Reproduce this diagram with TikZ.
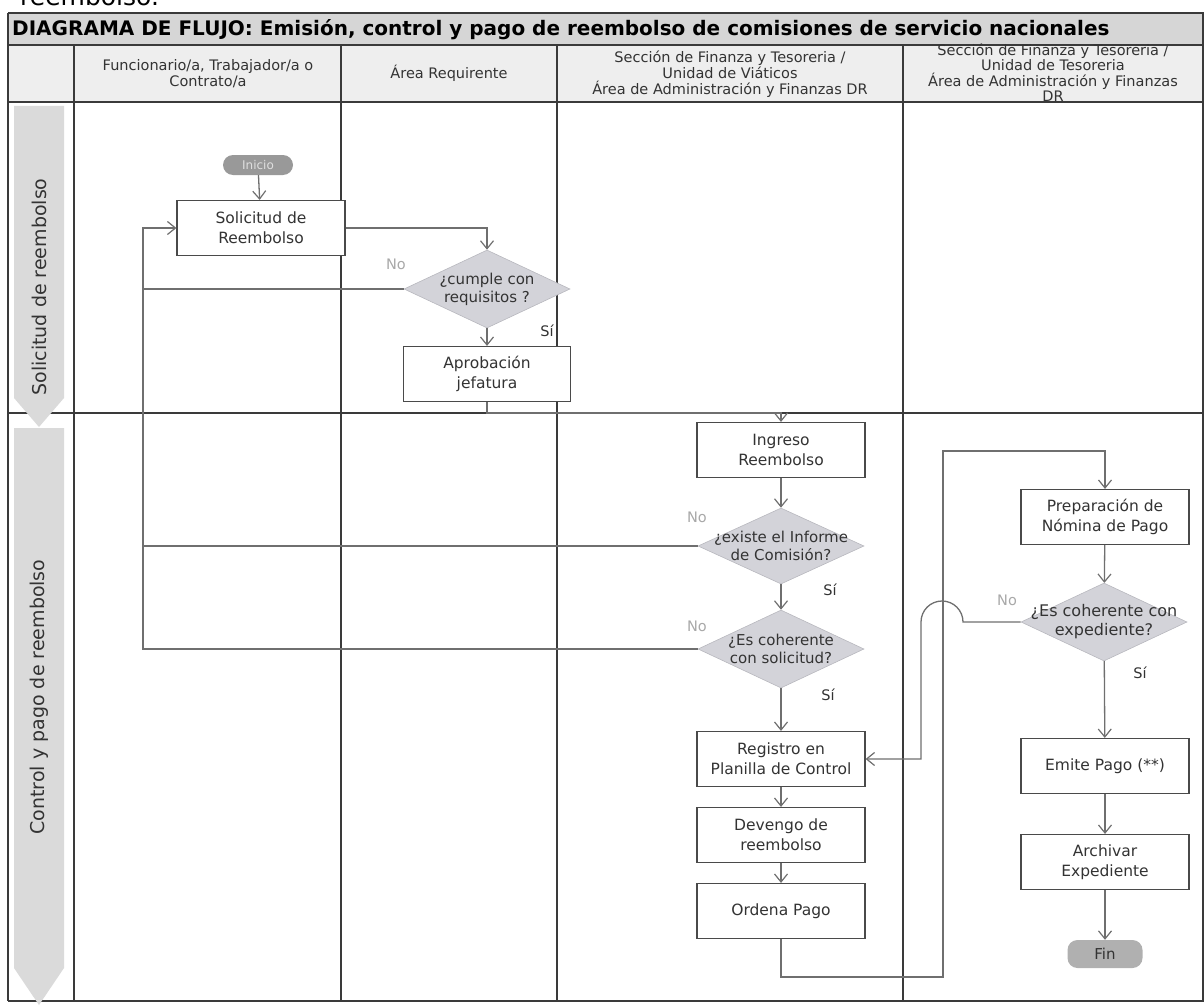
\documentclass[tikz,border=0pt]{standalone}
\usepackage{fontspec}
\setmainfont{DejaVu Sans}
\usetikzlibrary{shapes.geometric,arrows.meta}
\definecolor{linegray}{HTML}{6F6F6F}
\definecolor{boxborder}{HTML}{4A4A4A}
\definecolor{decfill}{HTML}{D3D3D9}
\definecolor{decdraw}{HTML}{B8B8BE}
\definecolor{titlefill}{HTML}{D6D6D6}
\definecolor{headfill}{HTML}{EEEEEE}
\definecolor{lanefill}{HTML}{DADADA}
\definecolor{gridline}{HTML}{3A3A3A}
\definecolor{txt}{HTML}{333333}
\definecolor{nogray}{HTML}{A8A8A8}
\newcommand{\tightlines}{\lineskiplimit=-20pt\relax}
\begin{document}
\begin{tikzpicture}[x=1pt,y=-1pt,
  grid/.style={draw=gridline, line width=1.1pt},
  conn/.style={draw=linegray, line width=1.3pt},
  arr/.style={conn, -{Straight Barb[length=8pt,width=13pt,line width=1.2pt]}},
  box/.style={draw=boxborder, line width=1.2pt, fill=white, minimum width=168pt, minimum height=55pt, inner sep=0pt, align=center, font=\fontsize{15.5}{20}\selectfont\tightlines, text=txt},
  dec/.style={diamond, fill=decfill, draw=decdraw, line width=0.6pt, inner sep=0pt, minimum width=166pt, minimum height=78pt},
  dectext/.style={align=center, font=\fontsize{15}{18}\selectfont\tightlines, text=txt},
  term/.style={rectangle, rounded corners=10pt, inner sep=0pt},
  hline/.style={anchor=base, inner sep=0pt, font=\fontsize{14.5}{15.7}\selectfont, text=txt},
  lanelbl/.style={rotate=90, font=\fontsize{19}{21}\selectfont, text=txt},
  nolbl/.style={font=\fontsize{14.5}{16}\selectfont, text=nogray},
  silbl/.style={font=\fontsize{14.5}{16}\selectfont, text=txt}
]
\useasboundingbox (0,0) rectangle (1204,1006);
% text above frame (cut)
\node[anchor=base west, font=\fontsize{25}{27}\selectfont, inner sep=0pt] (top) at (20,6) {reembolso.};
% title bar and header
\fill[titlefill] (8,13) rectangle (1204,45);
\fill[headfill] (8,45) rectangle (1204,102);
\node[anchor=west, font=\bfseries\fontsize{20}{22}\selectfont, inner sep=0pt] (title) at (12,30) {DIAGRAMA DE FLUJO: Emisión, control y pago de reembolso de comisiones de servicio nacionales};
% grid
\draw[grid] (8,13) -- (1204,13);
\draw[grid] (8,45) -- (1204,45);
\draw[grid] (8,102) -- (1204,102);
\draw[grid] (8,413) -- (1204,413);
\draw[grid] (8,1001) -- (1204,1001);
\draw[grid] (8,13) -- (8,1001);
\draw[grid] (1203,13) -- (1203,1001);
\foreach \xx in {74,341,557,903} \draw[grid] (\xx,45) -- (\xx,1001);
% headers (one node per line, baselines fixed)
\node[hline] (h1a) at (208,71) {Funcionario/a, Trabajador/a o};
\node[hline] (h1b) at (208,87) {Contrato/a};
\node[hline] (h2) at (449,79) {Área Requirente};
\node[hline] (h3a) at (730,63) {Sección de Finanza y Tesoreria /};
\node[hline] (h3b) at (730,79) {Unidad de Viáticos};
\node[hline] (h3c) at (730,95) {Área de Administración y Finanzas DR};
\node[hline] (h4a) at (1053,55.5) {Sección de Finanza y Tesoreria /};
\node[hline] (h4b) at (1053,71) {Unidad de Tesoreria};
\node[hline] (h4c) at (1053,86.5) {Área de Administración y Finanzas};
\node[hline] (h4d) at (1053,101.5) {DR};
% lane arrows
\fill[lanefill] (14,106) -- (64,106) -- (64,398) -- (39,427) -- (14,398) -- cycle;
\fill[lanefill] (14,428) -- (64,428) -- (64,968) -- (39,1005) -- (14,968) -- cycle;
\node[lanelbl] (l1) at (39,287) {Solicitud de reembolso};
\node[lanelbl] (l2) at (39,697) {Control y pago de reembolso};
% nodes
\node[term, fill=gray!80, minimum width=70pt, minimum height=20pt, font=\fontsize{12}{13}\selectfont, text=gray!25] (inicio) at (258,165) {Inicio};
\node[box] (sol) at (261,228) {Solicitud de\\Reembolso};
\node[dec, label={[dectext]center:¿cumple con\\requisitos ?}] (d1) at (487,289) {};
\node[box, minimum width=167pt] (apr) at (487,374) {Aprobación\\jefatura};
\node[box] (ing) at (781,450) {Ingreso\\Reembolso};
\node[dec, minimum height=76pt, label={[dectext]center:¿existe el Informe\\de Comisión?}] (d2) at (781,546) {};
\node[dec, label={[dectext]center:¿Es coherente\\con solicitud?}] (d3) at (781,649) {};
\node[box] (reg) at (781,759) {Registro en\\Planilla de Control};
\node[box] (dev) at (781,835) {Devengo de\\reembolso};
\node[box] (ord) at (781,911) {Ordena Pago};
\node[box] (prep) at (1105,517) {Preparación de\\Nómina de Pago};
\node[dec, label={[dectext, font=\fontsize{16}{19}\selectfont\tightlines]center:¿Es coherente con\\expediente?}] (d4) at (1104,622) {};
\node[box] (emi) at (1105,766) {Emite Pago (**)};
\node[box] (arch) at (1105,862) {Archivar\\Expediente};
\node[term, fill=gray!62, minimum width=75pt, minimum height=28pt, font=\fontsize{15}{16}\selectfont, text=txt] (fin) at (1105,954) {Fin};
% labels
\node[nolbl] (no1) at (396,264) {No};
\node[silbl] (si1) at (547,331) {Sí};
\node[nolbl] (no2) at (697,517) {No};
\node[silbl] (si2) at (830,590) {Sí};
\node[nolbl] (no3) at (697,626) {No};
\node[silbl] (si3) at (828,695) {Sí};
\node[nolbl] (no4) at (1007,600) {No};
\node[silbl] (si4) at (1140,673) {Sí};
% coordinates
\coordinate (lp) at (143,228);
\coordinate (c1) at (943,977);
\coordinate (c2) at (943,451);
\coordinate (hopa) at (963,622);
\coordinate (hopx) at (921,0);
% connectors
\draw[arr] (inicio) -- (sol);
\draw[arr] (sol.east) -| (d1.north);
\draw[arr] (d1) -- (apr);
\draw[conn] (d1.west) -- (d1.west -| lp);
\draw[conn] (d2.west) -- (d2.west -| lp);
\draw[arr] (d3.west) -| (lp) -- (sol.west);
\draw[arr] (apr.south) -- ++(0,11) -| (ing.north);
\draw[arr] (ing) -- (d2);
\draw[arr] (d2) -- (d3);
\draw[arr] (d3) -- (reg);
\draw[arr] (reg) -- (dev);
\draw[arr] (dev) -- (ord);
\draw[arr] (ord.south) -- (ord.south |- c1) -- (c1) -- (c2) -| (prep.north);
\draw[arr] (prep) -- (d4);
\draw[arr] (d4) -- (emi);
\draw[arr] (emi) -- (arch);
\draw[arr] (arch) -- (fin);
\draw[arr] (d4.west) -- (hopa) arc[start angle=0, end angle=180, radius=21pt] -- (hopx |- reg.east) -- (reg.east);
\end{tikzpicture}
\end{document}
